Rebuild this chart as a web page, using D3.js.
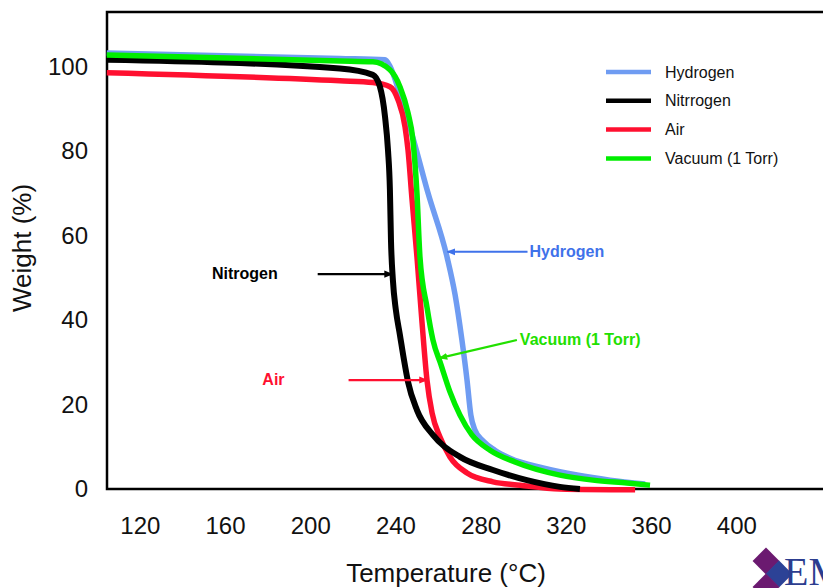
<!DOCTYPE html>
<html>
<head>
<meta charset="utf-8">
<script src="https://cdn.jsdelivr.net/npm/d3@7"></script>
<style>
  body { margin: 0; background: #fff; }
  svg { display: block; font-family: "Liberation Sans", Arial, sans-serif; }
</style>
</head>
<body>
<div id="chart"></div>
<script>
// TGA curves: [temperature (°C), weight (%)]
var hydrogen = [[104.5, 103.3], [213.9, 102.0], [235.1, 101.7], [237.4, 100.2], [242.1, 93.4],
    [248.2, 83.2], [255.3, 70.1], [264.2, 55.0], [268.0, 46.0], [271.2, 35.3], [273.6, 25.8],
    [275.4, 17.5], [277.3, 14.0], [281.1, 11.4], [286.7, 9.2], [293.8, 7.3], [309.3, 5.0],
    [325.2, 3.3], [340.7, 2.1], [357.2, 1.2]];
var nitrogen = [[104.5, 101.7], [213.9, 99.6], [229.4, 98.1], [232.7, 95.3], [235.1, 88.2],
    [236.5, 80.3], [237.4, 70.9], [237.9, 59.0], [238.8, 49.5], [240.2, 42.4], [242.1, 36.5],
    [244.0, 30.6], [245.9, 25.4], [250.1, 18.7], [257.6, 12.8], [270.3, 7.6], [285.8, 4.5],
    [301.7, 2.1], [317.2, 0.5], [326.6, 0]];
var air = [[104.5, 98.6], [213.9, 96.7], [229.4, 96.3], [237.4, 95.3], [241.2, 92.2],
    [244.5, 85.8], [245.9, 80.3], [247.8, 68.5], [250.1, 55.0], [252.5, 39.3], [254.8, 25.8],
    [257.2, 18.0], [260.9, 12.3], [265.6, 7.6], [273.6, 3.8], [285.8, 1.7], [298.5, 0.9],
    [317.2, 0], [352.5, -0.2]];
var vacuum = [[104.5, 102.8], [213.9, 101.4], [229.4, 101.2], [237.4, 99.3], [242.1, 95.3],
    [245.9, 89.1], [248.2, 82.7], [250.1, 70.0], [251.5, 55.0], [254.8, 43.1], [257.6, 35.3],
    [261.4, 29.4], [265.6, 23.0], [270.3, 17.5], [275.9, 12.8], [284.4, 9.2], [296.1, 6.4],
    [317.2, 3.3], [332.7, 2.1], [348.7, 1.4], [359.5, 0.9]];

var xTicks = [120, 160, 200, 240, 280, 320, 360, 400];
var yTicks = [0, 20, 40, 60, 80, 100];

var legendNames = ["Hydrogen", "Nitrrogen", "Air", "Vacuum (1 Torr)"];
var legendColors = ["#6f9cf2", "#000000", "#ff1030", "#00ee00"];

// callouts: label, arrow tip [T, %], tail [T, %], gap between tail and label (px)
var callouts = [
    { text: "Nitrogen", tip: [238.5, 50.9], tail: [203.5, 50.9], color: "#000000", side: "left", gap: 40 },
    { text: "Hydrogen", tip: [264.4, 56.2], tail: [302.0, 56.2], color: "#3f72ea", side: "right", gap: 2 },
    { text: "Vacuum (1 Torr)", tip: [260.6, 31.0], tail: [297.0, 35.3], color: "#22e000", side: "right", gap: 3 },
    { text: "Air", tip: [254.9, 25.8], tail: [218.0, 25.8], color: "#ff1030", side: "left", gap: 64 }
];

var width = 823, height = 588;
var plotLeft = 107, plotTop = 12, plotBottom = 489;

var svg = d3.select("#chart").append("svg")
    .attr("width", width)
    .attr("height", height);

var x = d3.scaleLinear().domain([104.6, 440.7]).range([plotLeft, width]);
var y = d3.scaleLinear().domain([0, 113]).range([plotBottom, plotTop]);

// frame
svg.append("path")
    .attr("d", `M${width + 5},${plotTop}H${plotLeft}V${plotBottom}H${width + 5}`)
    .attr("fill", "none")
    .attr("stroke", "#000")
    .attr("stroke-width", 2.5);

// axes (labels only, no tick marks)
var xAxis = svg.append("g")
    .attr("transform", `translate(0,${plotBottom + 25})`)
    .call(d3.axisBottom(x).tickValues(xTicks).tickSize(0).tickFormat(d3.format("d")));
xAxis.select(".domain").remove();
xAxis.selectAll("text")
    .attr("font-size", 24)
    .attr("font-family", "Liberation Sans, Arial, sans-serif")
    .attr("fill", "#111");

var yAxis = svg.append("g")
    .attr("transform", `translate(${plotLeft - 16},0)`)
    .call(d3.axisLeft(y).tickValues(yTicks).tickSize(0).tickFormat(d3.format("d")));
yAxis.select(".domain").remove();
yAxis.selectAll("text")
    .attr("font-size", 24)
    .attr("font-family", "Liberation Sans, Arial, sans-serif")
    .attr("fill", "#111");

svg.append("text")
    .attr("x", 446)
    .attr("y", 582)
    .attr("text-anchor", "middle")
    .attr("font-size", 26)
    .attr("fill", "#111")
    .text("Temperature (°C)");

svg.append("text")
    .attr("transform", "translate(31,248) rotate(-90)")
    .attr("text-anchor", "middle")
    .attr("font-size", 26)
    .attr("fill", "#111")
    .text("Weight (%)");

// curves
var line = d3.line()
    .x((d) => x(d[0]))
    .y((d) => y(d[1]))
    .curve(d3.curveMonotoneX);

var series = [
    { data: hydrogen, color: legendColors[0], w: 5.5 },
    { data: air, color: legendColors[2], w: 5.5 },
    { data: nitrogen, color: legendColors[1], w: 6 },
    { data: vacuum, color: legendColors[3], w: 5.5 }
];

svg.selectAll("path.curve")
    .data(series)
    .enter()
    .append("path")
    .attr("class", "curve")
    .attr("d", (d) => line(d.data))
    .attr("fill", "none")
    .attr("stroke", (d) => d.color)
    .attr("stroke-width", (d) => d.w)
    .attr("stroke-linejoin", "round");

// legend
var legend = svg.selectAll("g.legend")
    .data(legendNames)
    .enter()
    .append("g")
    .attr("class", "legend")
    .attr("transform", (d, i) => `translate(606,${72 + i * 28.8})`);

legend.append("line")
    .attr("x1", 0)
    .attr("x2", 45)
    .attr("stroke", (d, i) => legendColors[i])
    .attr("stroke-width", 4.5);

legend.append("text")
    .attr("x", 59)
    .attr("y", 5.5)
    .attr("font-size", 16)
    .attr("fill", "#111")
    .text((d) => d);

// callouts with arrows
var defs = svg.append("defs");
callouts.forEach(function (c, i) {
    defs.append("marker")
        .attr("id", "arrow" + i)
        .attr("viewBox", "0 0 10 10")
        .attr("refX", 9)
        .attr("refY", 5)
        .attr("markerWidth", 4)
        .attr("markerHeight", 4)
        .attr("orient", "auto")
        .append("path")
        .attr("d", "M0,1L10,5L0,9Z")
        .attr("fill", c.color);
});

svg.selectAll("line.callout")
    .data(callouts)
    .enter()
    .append("line")
    .attr("class", "callout")
    .attr("x1", (d) => x(d.tail[0]))
    .attr("y1", (d) => y(d.tail[1]))
    .attr("x2", (d) => x(d.tip[0]))
    .attr("y2", (d) => y(d.tip[1]))
    .attr("stroke", (d) => d.color)
    .attr("stroke-width", 2.2)
    .attr("marker-end", (d, i) => `url(#arrow${i})`);

svg.selectAll("text.callout")
    .data(callouts)
    .enter()
    .append("text")
    .attr("class", "callout")
    .attr("x", (d) => x(d.tail[0]) + (d.side === "left" ? -d.gap : d.gap))
    .attr("y", (d) => y(d.tail[1]) + 5)
    .attr("text-anchor", (d) => d.side === "left" ? "end" : "start")
    .attr("font-size", 16)
    .attr("font-weight", "bold")
    .attr("fill", (d) => d.color)
    .text((d) => d.text);

// logo in the corner
var logo = svg.append("g").attr("transform", "translate(766,561)");
logo.append("rect").attr("x", -9.5).attr("y", -9.5).attr("width", 19).attr("height", 19)
    .attr("transform", "rotate(45)").attr("fill", "#6b1a70");
logo.append("rect").attr("x", -9.5).attr("y", -9.5).attr("width", 19).attr("height", 19)
    .attr("transform", "translate(13,13) rotate(45)").attr("fill", "#2c4296");
logo.append("rect").attr("x", -9.5).attr("y", -9.5).attr("width", 19).attr("height", 19)
    .attr("transform", "translate(0,26) rotate(45)").attr("fill", "#6b1a70");
svg.append("text")
    .attr("x", 784)
    .attr("y", 585)
    .attr("font-family", "Liberation Serif, serif")
    .attr("font-size", 40)
    .attr("fill", "#2c3d8f")
    .text("EM");
</script>
</body>
</html>
